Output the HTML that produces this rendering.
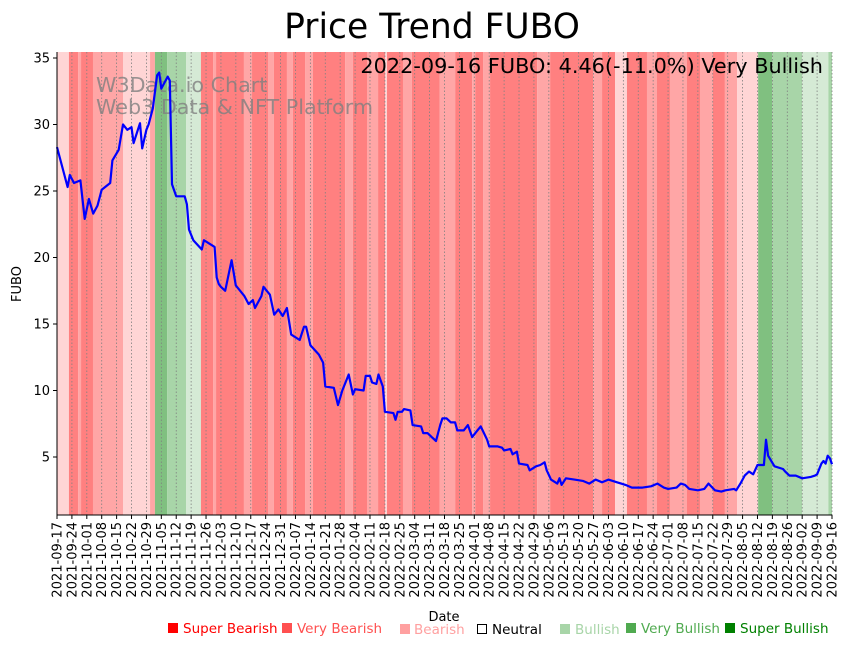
<!DOCTYPE html>
<html><head><meta charset="utf-8"><style>
body{margin:0;background:#fff;font-family:"Liberation Sans","DejaVu Sans",sans-serif}
svg text{font-family:"DejaVu Sans","Liberation Sans",sans-serif}
</style></head><body>
<svg id="chart" width="848" height="646" xmlns="http://www.w3.org/2000/svg">
<text x="432" y="38" font-size="34.5" text-anchor="middle">Price Trend FUBO</text>
<g id="bands"></g>
<g id="grid"></g>
<g fill="#808080" fill-opacity="0.8" font-size="20.7">
<text x="96" y="92">W3Data.io Chart</text><text x="96" y="114">Web3 Data &amp; NFT Platform</text></g>
<text x="823" y="73" font-size="20.8" text-anchor="end">2022-09-16 FUBO: 4.46(-11.0%) Very Bullish</text>
<path id="line" fill="none" stroke="#0000ff" stroke-width="2.2" stroke-linejoin="round"/>
<g id="yaxis"></g>
<g id="xaxis"></g>
<text transform="translate(21,284) rotate(-90)" font-size="13" text-anchor="middle">FUBO</text>
<text x="444" y="621" font-size="13" text-anchor="middle">Date</text>
<g font-size="13.5">
<g><rect x="168" y="623" width="10" height="10" fill="#ff0000"/><text x="183" y="633" fill="#ff0000">Super Bearish</text></g>
<g><rect x="282" y="623" width="10" height="10" fill="#ff5050"/><text x="297" y="633" fill="#ff5050">Very Bearish</text></g>
<g><rect x="400" y="624" width="10" height="10" fill="#ffa0a0"/><text x="414" y="634" fill="#ffa0a0">Bearish</text></g>
<g><rect x="477.5" y="624.5" width="9" height="9" fill="none" stroke="#000"/><text x="492" y="634" fill="#000">Neutral</text></g>
<g><rect x="560" y="624" width="10" height="10" fill="#a8d5a8"/><text x="575" y="634" fill="#a8d5a8">Bullish</text></g>
<g><rect x="626" y="623" width="10" height="10" fill="#50aa50"/><text x="641" y="633" fill="#50aa50">Very Bullish</text></g>
<g><rect x="725" y="623" width="10" height="10" fill="#008000"/><text x="740" y="633" fill="#008000">Super Bullish</text></g>
</g>
</svg>
<script>
const priceDays=[0,5,6,8,11,13,15,17,19,21,25,26,29,31,33,35,36,39,40,42,43,45,47,48,49,52,53,54,56,60,61,62,64,68,69,74,75,76,77,79,82,84,88,90,92,93,96,97,100,102,104,106,108,110,114,116,117,119,123,125,126,130,132,134,137,139,140,144,145,147,148,150,151,153,154,158,159,160,162,163,166,167,171,172,174,176,178,180,181,183,185,187,188,191,193,195,197,199,202,203,207,209,210,213,214,216,217,221,222,225,227,229,230,232,235,236,237,239,243,247,250,253,256,259,261,263,265,267,270,273,275,279,282,285,287,291,293,295,297,301,304,306,309,312,314,318,319,321,323,325,327,329,332,333,334,337,341,342,344,347,350,354,356,357,359,360,361,362,363,364];
const priceValues=[28.3,25.3,26.2,25.6,25.8,22.9,24.4,23.3,23.9,25.1,25.6,27.3,28.1,30.0,29.6,29.8,28.6,30.1,28.2,29.6,30.0,31.2,33.7,33.9,32.7,33.6,33.3,25.5,24.6,24.6,24.0,22.1,21.3,20.6,21.3,20.8,18.5,18.0,17.8,17.5,19.8,17.9,17.1,16.5,16.8,16.2,17.1,17.8,17.2,15.7,16.1,15.6,16.2,14.2,13.8,14.8,14.8,13.4,12.7,12.1,10.3,10.2,8.9,10.0,11.2,9.7,10.1,10.0,11.1,11.1,10.6,10.5,11.2,10.3,8.4,8.3,7.8,8.4,8.4,8.6,8.5,7.4,7.3,6.8,6.8,6.5,6.2,7.4,7.9,7.9,7.6,7.6,7.0,7.0,7.4,6.5,6.9,7.3,6.3,5.8,5.8,5.7,5.5,5.6,5.2,5.4,4.5,4.4,4.0,4.3,4.4,4.6,4.0,3.3,3.0,3.4,2.9,3.4,3.3,3.2,3.0,3.3,3.1,3.3,3.2,3.1,3.0,2.9,2.7,2.7,2.7,2.8,3.0,2.7,2.6,2.7,3.0,2.9,2.6,2.5,2.6,3.0,2.5,2.4,2.5,2.6,2.5,3.0,3.6,3.9,3.7,4.4,4.4,6.3,5.1,4.3,4.1,3.9,3.6,3.6,3.4,3.5,3.6,3.7,4.5,4.7,4.5,5.1,4.9,4.46];
const bandStarts=[0,5.6,9.9,11.3,16.9,31,43.7,46,51.7,60.6,67.6,73.3,74.7,87.8,91.6,99.1,101.9,108,110.8,116.5,120.2,135.3,139,145.6,150.8,154.1,155,162.5,166.7,179.8,187,195,196.4,200.1,203.4,225.5,231.6,251.8,256,262.1,267.7,277.1,281.8,287.9,295.9,302,308.1,313.7,319.4,329.3,335.9,350,362.3];
const bandLevels=[-1,-3,-2,-3,-2,-1,-2,3,2,1,-3,-2,-3,-2,-3,-2,-3,-2,-3,-2,-3,-2,-3,-2,-3,-1,-3,-2,-3,-2,-3,-2,-3,-2,-3,-2,-3,-2,-3,-1,-3,-2,-3,-2,-3,-2,-3,-2,-1,3,2,1,2];
const yTicks=[5,10,15,20,25,30,35];
const startDate=new Date(Date.UTC(2021,8,17));
const NS='http://www.w3.org/2000/svg';
const X0=57,X1=832,YT=52,YB=515;
const x=d=>X0+(X1-X0)*d/364;
const y=v=>523.5-13.3*v;
const colors={'-3':'#ff8080','-2':'#ffa6a6','-1':'#ffd5d5','1':'#d5ead5','2':'#a8d5a8','3':'#80c080'};
function mk(t,a,p){const e=document.createElementNS(NS,t);for(const k in a)e.setAttribute(k,a[k]);p.appendChild(e);return e;}
const bands=document.getElementById('bands');
bandStarts.forEach((s,i)=>{const e=i+1<bandStarts.length?bandStarts[i+1]:364;
 const r=mk('rect',{x:x(s),y:YT,width:Math.max(0,Math.min(x(e),X1)-x(s)),height:YB-YT,fill:colors[bandLevels[i]]},bands);
 
 });
const grid=document.getElementById('grid'),xa=document.getElementById('xaxis');
for(let w=0;w<=52;w++){const d=w*7,px=x(d);
 const g=mk('line',{x1:px,x2:px,y1:YT,y2:YB,stroke:'#808080','stroke-width':0.8,'stroke-dasharray':'1.5,2'},grid);
 
 
 mk('line',{x1:px,x2:px,y1:YB,y2:YB+4,stroke:'#000'},xa);
 const dt=new Date(startDate.getTime()+d*86400000);
 const lab=dt.toISOString().slice(0,10);
 const t=mk('text',{transform:`translate(${px+4.5},${YB+7}) rotate(-90)`,'font-size':13,'text-anchor':'end'},xa);
 t.textContent=lab;
 
 }
mk('line',{x1:X0,x2:X1,y1:YB,y2:YB,stroke:'#000'},xa);
const ya=document.getElementById('yaxis');
mk('line',{x1:X0,x2:X0,y1:YT,y2:YB,stroke:'#000'},ya);
yTicks.forEach(v=>{mk('line',{x1:X0-4,x2:X0,y1:y(v),y2:y(v),stroke:'#000'},ya);
 const t=mk('text',{x:X0-7,y:y(v)+4.5,'font-size':13,'text-anchor':'end'},ya);t.textContent=v;
 
 });
document.getElementById('line').setAttribute('d',priceDays.map((d,i)=>(i?'L':'M')+x(d).toFixed(1)+','+y(priceValues[i]).toFixed(1)).join(''));
</script>
</body></html>
